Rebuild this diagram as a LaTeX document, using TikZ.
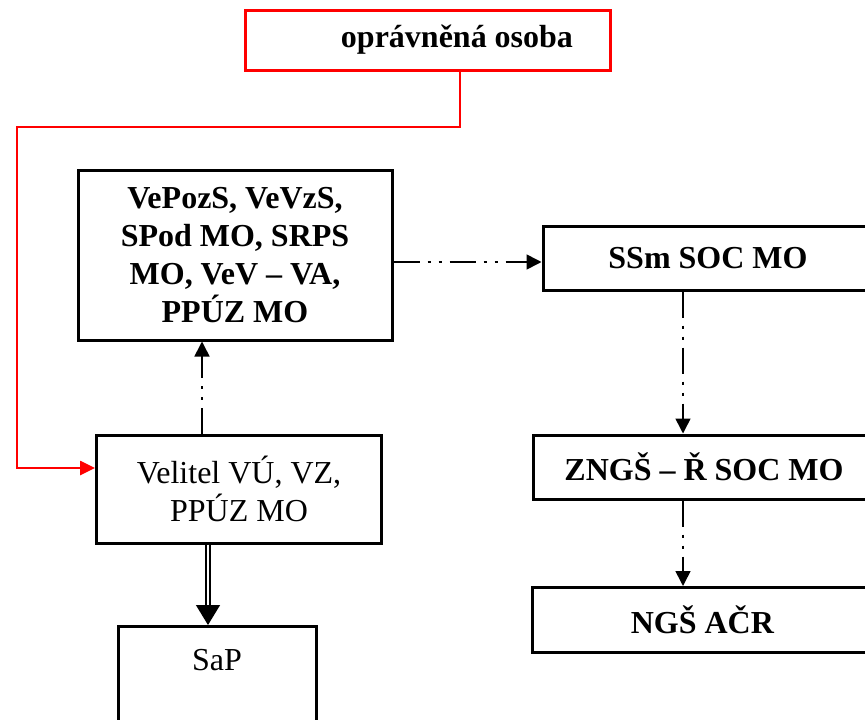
\documentclass[tikz,border=0pt]{standalone}
\usepackage{fontspec}
\setmainfont{Liberation Serif}
\usetikzlibrary{arrows.meta}

\begin{document}
\begin{tikzpicture}[x=1pt,y=-1pt,font=\fontsize{32}{38}\selectfont]
        \tikzstyle{unit}=[rectangle,draw=black,line width=3pt,fill=white,align=center,inner sep=0pt]
        \tikzstyle{boss}=[unit,draw=red]
        \tikzstyle{order}=[draw,line width=1.6pt,dash pattern=on 26pt off 8pt on 3pt off 8pt on 3pt off 8pt,-{Triangle[width=15pt,length=15pt]}]
        \tikzstyle{redline}=[draw=red,line width=2.6pt,-{Triangle[width=14pt,length=15pt]}]
        \tikzstyle{twin}=[draw,double,double distance=2.5pt,line width=1.3pt,-{Triangle[width=24pt,length=20pt]}]
        \useasboundingbox (0,0) rectangle (865,720);
       \begin{scope}
         \node [boss,minimum width=365,minimum height=60] (top) at (427.5,40) {\hspace*{59pt}\textbf{oprávněná osoba}};
         \node [unit,minimum width=314,minimum height=170] (staff) at (235,255) {\textbf{VePozS, VeVzS,}\\\textbf{SPod MO, SRPS}\\\textbf{MO, VeV – VA,}\\\textbf{PPÚZ MO}};
         \node [unit,minimum width=285,minimum height=108] (velitel) at (239,489) {Velitel VÚ, VZ,\\PPÚZ MO};
         \node [unit,minimum width=198,anchor=north,inner ysep=22pt,text height=22pt,text depth=80pt] (sap) at (217,625) {SaP};
         \node [unit,minimum width=330,minimum height=64] (ssm) at (708,258) {\textbf{SSm SOC MO}};
         \node [unit,minimum width=342,minimum height=64] (zngs) at (704,467) {\textbf{ZNGŠ – Ř SOC MO}};
         \node [unit,minimum width=341,minimum height=65] (ngs) at (702.5,620) {\textbf{NGŠ AČR}};
         \coordinate (bend) at (17,127);

         \path[redline] ([xshift=32.5pt]top.south) |- (bend) |- ([yshift=21pt]velitel.west);
         \path[order] ([xshift=-37pt]velitel.north) -- ([xshift=-37pt]velitel.north |- staff.south);
         \path[order] ([yshift=-7pt]staff.east) -- ([yshift=-7pt]staff.east -| ssm.west);
         \path[order] ([xshift=-25pt]ssm.south) -- ([xshift=-25pt]ssm.south |- zngs.north);
         \path[order] ([xshift=-21pt]zngs.south) -- ([xshift=-21pt]zngs.south |- ngs.north);
         \path[twin] ([xshift=-31pt]velitel.south) -- ([xshift=-31pt]velitel.south |- sap.north);
        \end{scope}
      \end{tikzpicture}
\end{document}
